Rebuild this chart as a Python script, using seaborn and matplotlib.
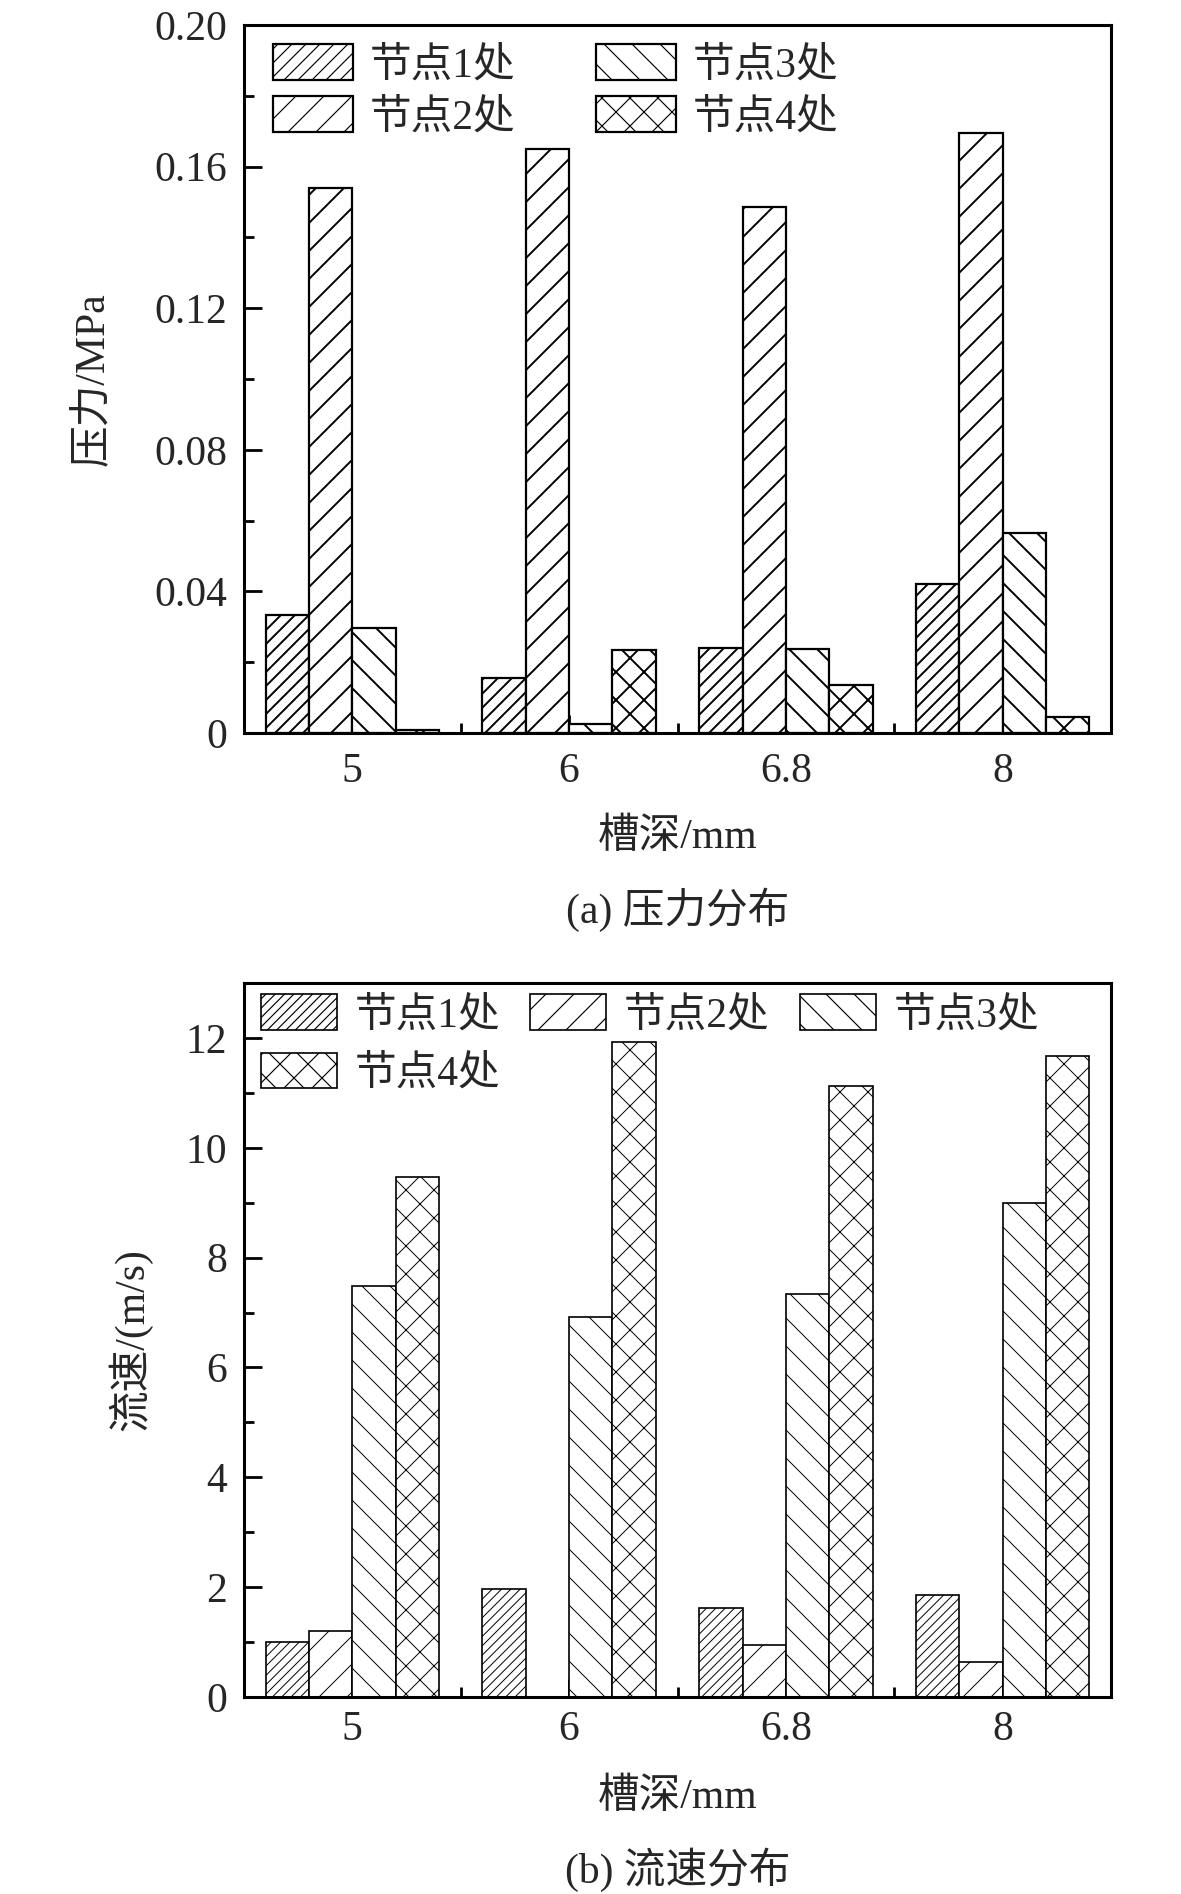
import pandas as pd
import seaborn as sns
import matplotlib.pyplot as plt
from matplotlib.patches import Patch
from matplotlib.ticker import MultipleLocator, FixedLocator, FuncFormatter

depths = ["5", "6", "6.8", "8"]
nodes = ["节点1处", "节点2处", "节点3处", "节点4处"]

# pressure, MPa (one list per node, order = depths)
p_node1 = [0.0333, 0.0156, 0.0239, 0.0422]
p_node2 = [0.1540, 0.1650, 0.1487, 0.1696]
p_node3 = [0.0296, 0.0026, 0.0238, 0.0564]
p_node4 = [0.0008, 0.0234, 0.0135, 0.0046]

# velocity, m/s
v_node1 = [1.00, 1.97, 1.62, 1.86]
v_node2 = [1.20, 0.00, 0.95, 0.63]
v_node3 = [7.49, 6.91, 7.33, 9.00]
v_node4 = [9.46, 11.93, 11.13, 11.67]

top_hatches = ["//", "/", "\\", "x"]
bot_hatches = ["///", "/", "\\", "x"]

# hatch spacing follows dpi, so render at 84 dpi and scale point sizes
DPI = 84
S = 100 / DPI

sns.set_style("ticks")
plt.rcParams["font.family"] = ["Liberation Serif", "Noto Sans CJK SC"]
plt.rcParams["axes.unicode_minus"] = False
FS = 30 * S


def long_frame(series):
    rows = []
    for node, vals in zip(nodes, series):
        for d, v in zip(depths, vals):
            rows.append({"槽深": d, "节点": node, "值": v})
    return pd.DataFrame(rows)


def draw(ax, df, hatches, lw, hlw, xpad):
    sns.barplot(data=df, x="槽深", y="值", hue="节点", order=depths,
                hue_order=nodes, palette=["white"] * 4, saturation=1,
                edgecolor="black", linewidth=lw * S, errorbar=None,
                legend=False, width=0.8, ax=ax)
    for cont, h in zip(ax.containers, hatches):
        for bar in cont:
            bar.set_hatch(h)
            if hasattr(bar, "set_hatch_linewidth"):
                bar.set_hatch_linewidth(hlw * S)
    ax.set_xlim(-0.5, 3.5)
    ax.xaxis.set_minor_locator(FixedLocator([0.5, 1.5, 2.5]))
    for s in ax.spines.values():
        s.set_linewidth(2.2 * S)
        s.set_color("black")
    ax.tick_params(which="both", direction="in", top=False, right=False,
                   width=2 * S, color="black")
    ax.tick_params(which="major", length=13 * S, labelsize=FS)
    ax.tick_params(which="minor", length=7 * S)
    ax.tick_params(axis="x", pad=xpad * S)
    ax.tick_params(axis="y", pad=12 * S)
    ax.set_xlabel("槽深/mm", fontsize=FS)
    ax.xaxis.label.set_va("center")


W, H = 1181, 1894
fig = plt.figure(figsize=(W / DPI, H / DPI), dpi=DPI)
ax1 = fig.add_axes([244 / W, 1 - 733 / H, 867 / W, 708 / H])
ax2 = fig.add_axes([244 / W, 1 - 1697 / H, 867 / W, 714 / H])

# (a) pressure
draw(ax1, long_frame([p_node1, p_node2, p_node3, p_node4]), top_hatches, 1.6, 1.4, 14)
ax1.set_ylim(0, 0.2)
ax1.yaxis.set_major_locator(MultipleLocator(0.04))
ax1.yaxis.set_minor_locator(MultipleLocator(0.02))
ax1.yaxis.set_major_formatter(FuncFormatter(lambda v, p: "0" if abs(v) < 1e-9 else f"{v:.2f}"))
ax1.set_ylabel("压力/MPa", fontsize=FS, va="center")
ax1.yaxis.set_label_coords(-0.175, 0.5)
ax1.xaxis.set_label_coords(0.5, -105 / 708)
h1 = [Patch(facecolor="white", edgecolor="black", hatch=h, linewidth=1.6 * S)
      for h in top_hatches]
ax1.legend(h1, nodes, ncol=2, loc="upper left", frameon=False,
           bbox_to_anchor=(273 / W, 1 - 44 / H), bbox_transform=fig.transFigure,
           borderaxespad=0, borderpad=0, prop={"size": FS},
           handlelength=1.92, handleheight=0.96, handletextpad=0.41,
           columnspacing=1.92, labelspacing=0.25)

# (b) velocity
draw(ax2, long_frame([v_node1, v_node2, v_node3, v_node4]), bot_hatches, 1.2, 0.7, 10)
ax2.set_ylim(0, 13)
ax2.yaxis.set_major_locator(MultipleLocator(2))
ax2.yaxis.set_minor_locator(MultipleLocator(1))
ax2.yaxis.set_major_formatter(FuncFormatter(lambda v, p: f"{v:.0f}"))
ax2.set_ylabel("流速/(m/s)", fontsize=FS, va="center")
ax2.yaxis.set_label_coords(-0.131, 0.5)
ax2.xaxis.set_label_coords(0.5, -101 / 714)
h2 = [Patch(facecolor="white", edgecolor="black", hatch=h, linewidth=1.2 * S)
      for h in bot_hatches]
order = [0, 3, 1, 2]
ax2.legend([h2[i] for i in order], [nodes[i] for i in order], ncol=3,
           loc="upper left", frameon=False,
           bbox_to_anchor=(261 / W, 1 - 994 / H), bbox_transform=fig.transFigure,
           borderaxespad=0, borderpad=0, prop={"size": FS},
           handlelength=1.82, handleheight=0.94, handletextpad=0.43,
           columnspacing=0.72, labelspacing=0.42)

fig.text(677.5 / W, 1 - 910 / H, "(a) 压力分布", fontsize=FS, ha="center", va="center")
fig.text(677.5 / W, 1 - 1870 / H, "(b) 流速分布", fontsize=FS, ha="center", va="center")

fig.savefig("out.png", dpi=DPI)
